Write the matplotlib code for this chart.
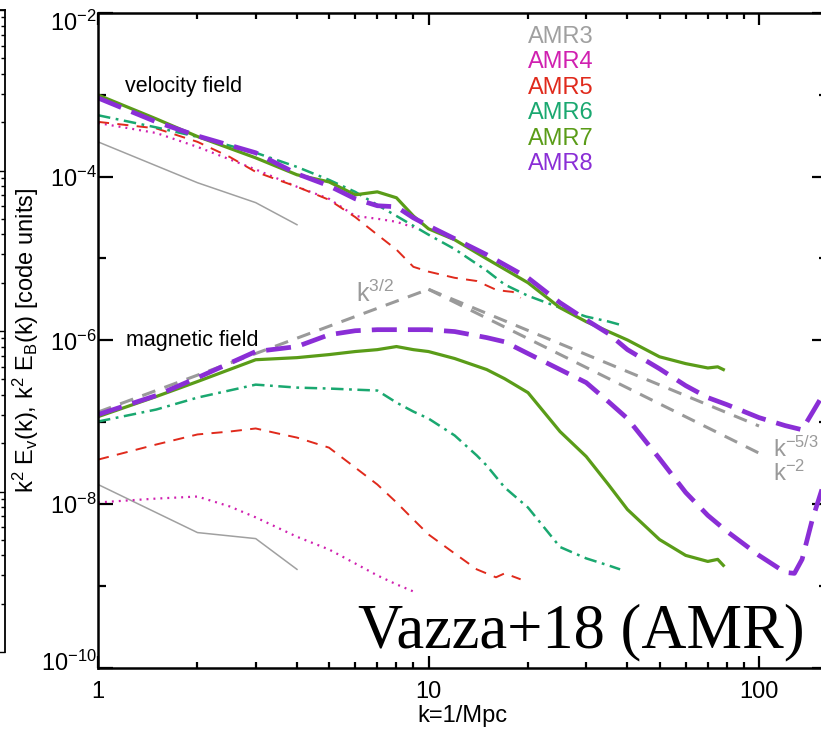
import numpy as np
import matplotlib
matplotlib.use("Agg")
import matplotlib.pyplot as plt
from matplotlib.ticker import FixedLocator, NullFormatter, FuncFormatter
from matplotlib.transforms import ScaledTranslation

plt.rcParams['font.family'] = ['Liberation Sans', 'DejaVu Sans']
plt.rcParams['mathtext.fontset'] = 'custom'
plt.rcParams['mathtext.rm'] = 'Liberation Sans'
plt.rcParams['mathtext.it'] = 'Liberation Sans:italic'
plt.rcParams['mathtext.bf'] = 'Liberation Sans:bold'
plt.rcParams['lines.scale_dashes'] = False

# ---------------- spectra: velocity field ----------------
k_v3 = [1, 2, 3, 4]
E_v3 = [2.65e-4, 8.4e-5, 4.8e-5, 2.58e-5]

k_v4 = [1, 1.5, 2, 3, 4, 5, 6, 7, 8, 9]
E_v4 = [4.5e-4, 3.4e-4, 2.3e-4, 1.22e-4, 7.5e-5, 5.35e-5, 3.3e-5, 3.05e-5, 2.8e-5, 2.4e-5]

k_v5 = [1, 1.5, 2, 2.5, 3, 4, 5, 6, 7, 8, 9, 10, 12, 14, 16, 17, 18, 19]
E_v5 = [4.65e-4, 3.87e-4, 2.65e-4, 1.74e-4, 1.14e-4, 7.5e-5, 5.2e-5, 3.2e-5, 1.95e-5,
        1.28e-5, 7.9e-6, 6.9e-6, 5.8e-6, 5.3e-6, 4.15e-6, 4.0e-6, 3.9e-6, 3.3e-6]

k_v6 = [1, 1.5, 2, 3, 4, 5, 6, 7, 8, 9, 10, 12, 15, 17, 20, 25, 30, 35, 38]
E_v6 = [5.6e-4, 3.98e-4, 3.05e-4, 1.95e-4, 1.31e-4, 9.1e-5, 6.5e-5, 4.5e-5, 3.3e-5,
        2.5e-5, 1.95e-5, 1.3e-5, 7.1e-6, 4.8e-6, 3.5e-6, 2.5e-6, 1.95e-6, 1.7e-6, 1.55e-6]

k_v7 = [1, 1.5, 2, 3, 4, 5, 6, 7, 8, 9, 10, 12, 15, 20, 25, 30, 40, 50, 60, 70, 75, 78]
E_v7 = [9.9e-4, 5.06e-4, 3.08e-4, 1.69e-4, 1.05e-4, 8.6e-5, 5.98e-5, 6.5e-5, 5.5e-5,
        3.3e-5, 2.3e-5, 1.69e-5, 9.9e-6, 5.05e-6, 2.5e-6, 1.69e-6, 1.01e-6, 6.3e-7,
        5.2e-7, 4.6e-7, 4.75e-7, 4.4e-7]

k_v8 = [1, 1.5, 2, 3, 4, 5, 6, 7, 8, 9, 10, 12, 15, 20, 25, 30, 35, 40, 50, 60, 70,
        80, 100, 120, 135, 145, 155]
E_v8 = [9.1e-4, 4.65e-4, 3.13e-4, 1.95e-4, 1.08e-4, 7.7e-5, 5.35e-5, 4.4e-5, 4.27e-5,
        3.13e-5, 2.5e-5, 1.74e-5, 1.11e-5, 5.8e-6, 2.88e-6, 1.78e-6, 1.21e-6, 7.7e-7,
        4.5e-7, 2.8e-7, 2.0e-7, 1.64e-7, 1.14e-7, 9.1e-8, 8.1e-8, 1.31e-7, 2.06e-7]

# ---------------- spectra: magnetic field ----------------
k_b3 = [1, 2, 3, 4]
E_b3 = [1.74e-8, 4.5e-9, 3.8e-9, 1.6e-9]

k_b4 = [1, 1.5, 2, 2.5, 3, 4, 5, 6, 7, 8, 9]
E_b4 = [1.05e-8, 1.17e-8, 1.24e-8, 9.4e-9, 6.9e-9, 4.0e-9, 2.8e-9, 1.89e-9, 1.35e-9,
        1.05e-9, 8.6e-10]

k_b5 = [1, 1.5, 2, 2.5, 3, 3.5, 4, 5, 6, 7, 8, 9, 10, 12, 14, 16, 17, 19]
E_b5 = [3.5e-8, 5.35e-8, 7.1e-8, 7.7e-8, 8.4e-8, 7.3e-8, 6.5e-8, 4.9e-8, 2.8e-8,
        1.74e-8, 1.05e-8, 6.5e-9, 4.27e-9, 2.5e-9, 1.6e-9, 1.28e-9, 1.43e-9, 1.21e-9]

k_b6 = [1, 1.5, 2, 3, 4, 5, 6, 7, 8, 9, 10, 12, 14, 15, 17, 20, 25, 30, 35, 38]
E_b6 = [1.02e-7, 1.43e-7, 2.0e-7, 2.88e-7, 2.65e-7, 2.58e-7, 2.5e-7, 2.44e-7, 1.74e-7,
        1.35e-7, 1.11e-7, 6.9e-8, 3.93e-8, 2.96e-8, 1.6e-8, 9.1e-9, 3.0e-9, 2.18e-9,
        1.79e-9, 1.6e-9]

k_b7 = [1, 1.5, 2, 3, 4, 5, 6, 7, 8, 9, 10, 12, 15, 17, 20, 25, 30, 35, 40, 50, 60,
        70, 75, 78]
E_b7 = [1.17e-7, 2.06e-7, 3.14e-7, 5.8e-7, 6.15e-7, 6.7e-7, 7.3e-7, 7.7e-7, 8.4e-7,
        7.7e-7, 7.3e-7, 6.0e-7, 4.4e-7, 3.4e-7, 2.3e-7, 7.7e-8, 3.82e-8, 1.74e-8,
        8.6e-9, 3.7e-9, 2.37e-9, 2.0e-9, 2.12e-9, 1.79e-9]

k_b8 = [1, 1.5, 2, 3, 4, 5, 6, 7, 8, 10, 12, 15, 17, 20, 25, 30, 35, 40, 50, 60, 70,
        80, 100, 120, 128, 135, 145, 155]
E_b8 = [1.24e-7, 2.12e-7, 3.5e-7, 7.3e-7, 8.4e-7, 1.17e-6, 1.31e-6, 1.35e-6, 1.35e-6,
        1.35e-6, 1.28e-6, 1.08e-6, 9.6e-7, 6.9e-7, 4.4e-7, 3.05e-7, 1.79e-7, 1.11e-7,
        3.6e-8, 1.39e-8, 7.3e-9, 4.65e-9, 2.37e-9, 1.47e-9, 1.43e-9, 2.12e-9, 6.5e-9,
        1.51e-8]

# ---------------- reference power laws ----------------
k_rise = [1, 10]
E_rise = [1.33e-7, 4.2e-6]          # k^{3/2}
k_fall = [10, 100]
E_fall53 = [4.2e-6, 9.0e-8]         # k^{-5/3}
E_fall2 = [4.2e-6, 4.2e-8]          # k^{-2}

runs = ['AMR3', 'AMR4', 'AMR5', 'AMR6', 'AMR7', 'AMR8']
colors = ['#a0a0a0', '#d020b0', '#e02a1c', '#1aa870', '#5a9c18', '#8a2ed6']
guide_color = '#9a9a9a'

W, H = 821, 731
fig = plt.figure(figsize=(W / 100, H / 100), dpi=100)

# sliver of the neighbouring panel on the left
ax0 = fig.add_axes([-0.2, 1 - 652 / H, 0.2 + 5 / W, 642 / H])
ax0.set_yscale('log')
ax0.set_ylim(1e-3, 1e1)
ax0.set_xticks([])
for s in ['left', 'bottom']:
    ax0.spines[s].set_visible(False)
for s in ['right', 'top']:
    ax0.spines[s].set_linewidth(1.3)
ax0.tick_params(axis='y', which='both', direction='in', left=False, right=True,
                labelleft=False, width=1.0)
ax0.tick_params(axis='y', which='major', length=5)
ax0.tick_params(axis='y', which='minor', length=3)

ax = fig.add_axes([98 / W, 1 - 668 / H, 729 / W, 655.3 / H])
ax.set_xscale('log')
ax.set_yscale('log')

lw_thin = 1.1
# AMR3
ax.plot(k_v3, E_v3, color=colors[0], lw=lw_thin)
ax.plot(k_b3, E_b3, color=colors[0], lw=lw_thin)
# AMR4
ax.plot(k_v4, E_v4, color=colors[1], lw=1.6, dashes=(1.4, 3.6))
ax.plot(k_b4, E_b4, color=colors[1], lw=1.6, dashes=(1.4, 3.6))
# AMR5
ax.plot(k_v5, E_v5, color=colors[2], lw=1.4, dashes=(8, 6))
ax.plot(k_b5, E_b5, color=colors[2], lw=1.4, dashes=(8, 6))
# AMR6
ax.plot(k_v6, E_v6, color=colors[3], lw=1.8, dashes=(9, 4, 2, 4))
ax.plot(k_b6, E_b6, color=colors[3], lw=1.8, dashes=(9, 4, 2, 4))
# reference slopes
ax.plot(k_rise, E_rise, color=guide_color, lw=2.2, dashes=(10, 7))
ax.plot(k_fall, E_fall53, color=guide_color, lw=2.2, dashes=(10, 7))
ax.plot(k_fall, E_fall2, color=guide_color, lw=2.2, dashes=(10, 7))
# AMR7
ax.plot(k_v7, E_v7, color=colors[4], lw=2.3)
ax.plot(k_b7, E_b7, color=colors[4], lw=2.3)
# AMR8
ax.plot(k_v8, E_v8, color=colors[5], lw=3.4, dashes=(18, 8))
ax.plot(k_b8, E_b8, color=colors[5], lw=3.4, dashes=(18, 8))

ax.set_xlim(1, 160.6)
ax.set_ylim(1e-10, 1e-2)

# axes, ticks
for s in ax.spines.values():
    s.set_linewidth(1.8)

ax.xaxis.set_major_locator(FixedLocator([1, 10, 100]))
ax.xaxis.set_minor_locator(FixedLocator([2, 3, 4, 5, 6, 7, 8, 9, 20, 30, 40, 50, 60, 70, 80, 90]))
ax.xaxis.set_major_formatter(FuncFormatter(lambda v, p: '%d' % round(v)))
ax.xaxis.set_minor_formatter(NullFormatter())

ax.yaxis.set_major_locator(FixedLocator([1e-10, 1e-8, 1e-6, 1e-4, 1e-2]))
ax.yaxis.set_minor_locator(FixedLocator([1e-9, 1e-7, 1e-5, 1e-3]))
ax.yaxis.set_major_formatter(FuncFormatter(
    lambda v, p: r'$\mathdefault{10^{%d}}$' % round(np.log10(v))))
ax.yaxis.set_minor_formatter(NullFormatter())

ax.tick_params(axis='both', which='both', direction='in', top=True, right=True,
               width=1.6, labelsize=17)
ax.tick_params(axis='x', which='major', length=8.6, pad=9)
ax.tick_params(axis='x', which='minor', length=4.3)
ax.tick_params(axis='y', which='major', length=10.8, pad=1)
ax.tick_params(axis='y', which='minor', length=5.8)

# nudge the two end labels of the y axis inside the frame
ylocs = ax.yaxis.get_majorticklocs()
for loc, t in zip(ylocs, ax.yaxis.get_major_ticks(len(ylocs))):
    e = int(round(np.log10(loc)))
    if e == -2:
        t.label1.set_transform(t.label1.get_transform() +
                               ScaledTranslation(0, -6 / 72, fig.dpi_scale_trans))
    elif e == -10:
        t.label1.set_transform(t.label1.get_transform() +
                               ScaledTranslation(0, 5 / 72, fig.dpi_scale_trans))

ax.set_xlabel('k=1/Mpc', fontsize=17, labelpad=2)
ax.set_ylabel(r'k$^2$ E$_\mathregular{v}$(k), k$^2$ E$_\mathregular{B}$(k) [code units]',
              fontsize=17)
ax.yaxis.set_label_coords(-0.078, 0.5)

# annotations
ax.text(1.207, 1.08e-3, 'velocity field', fontsize=15.5, va='baseline')
ax.text(1.215, 8.6e-7, 'magnetic field', fontsize=15.5, va='baseline')
ax.text(6.05, 2.96e-6, r'k$^{3/2}$', fontsize=18, color=guide_color, va='baseline')
ax.text(110, 3.82e-8, r'k$^{-5/3}$', fontsize=17, color=guide_color, va='baseline')
ax.text(110, 1.95e-8, r'k$^{-2}$', fontsize=17, color=guide_color, va='baseline')

# run names
for i, (name, c) in enumerate(zip(runs, colors)):
    fig.text(528 / W, 1 - (43 + 25.4 * i) / H, name, color=c, fontsize=17,
             va='baseline', ha='left')

fig.text(805 / W, 1 - 647 / H, 'Vazza+18 (AMR)', fontsize=45,
         family=['Liberation Serif', 'DejaVu Serif'], ha='right', va='baseline')

fig.savefig('out.png', dpi=100)
